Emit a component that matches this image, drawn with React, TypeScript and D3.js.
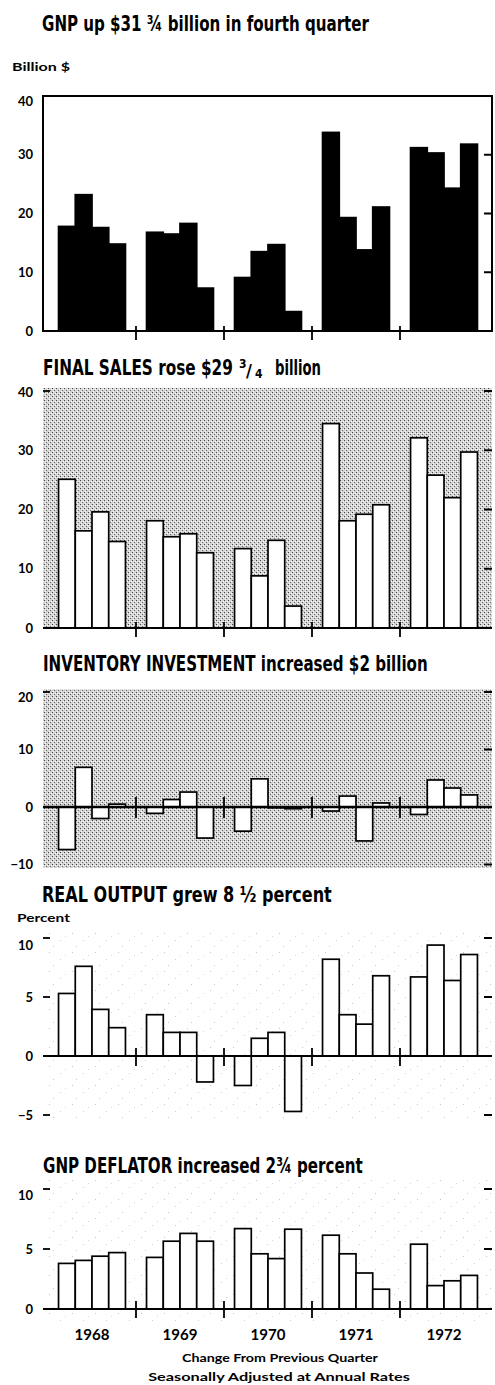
import React, { useLayoutEffect, useRef, useState } from "react";
import * as d3 from "d3";

const years = ["1968", "1969", "1970", "1971", "1972"];
const quarters = ["I", "II", "III", "IV"];

// Billion $ changes from previous quarter
const gnpChange = [17.8, 23.2, 17.6, 14.8, 16.8, 16.5, 18.3, 7.3, 9.1, 13.5, 14.7, 3.3, 33.8, 19.3, 13.8, 21.1, 31.2, 30.3, 24.3, 31.8];
const finalSalesChange = [25.1, 16.4, 19.6, 14.6, 18.1, 15.4, 15.9, 12.7, 13.4, 8.8, 14.8, 3.7, 34.5, 18.1, 19.2, 20.8, 32.1, 25.8, 22.0, 29.7];
const inventoryChange = [-7.4, 6.9, -2.0, 0.5, -1.1, 1.3, 2.6, -5.4, -4.2, 4.9, -0.1, -0.3, -0.7, 1.9, -5.9, 0.7, -1.3, 4.7, 3.3, 2.1];
// Percent changes
const realOutputChange = [5.3, 7.6, 3.95, 2.4, 3.5, 2.0, 2.0, -2.2, -2.5, 1.5, 2.0, -4.7, 8.2, 3.5, 2.7, 6.8, 6.7, 9.4, 6.4, 8.6];
const deflatorChange = [3.8, 4.05, 4.4, 4.7, 4.3, 5.65, 6.3, 5.65, 6.7, 4.6, 4.2, 6.65, 6.15, 4.6, 3.0, 1.65, 5.4, 1.95, 2.35, 2.8];

const gnpTicks = [0, 10, 20, 30, 40];
const salesTicks = [0, 10, 20, 30, 40];
const inventoryTicks = [-10, 0, 10, 20];
const realTicks = [-5, 0, 5, 10];
const deflatorTicks = [0, 5, 10];

const TITLE_FONT = "'DejaVu Sans Condensed','Liberation Sans Narrow','Roboto Condensed','DejaVu Sans',sans-serif";
const LABEL_FONT = "Lato,'DejaVu Sans',sans-serif";

const LEFT = 43;
const RIGHT = 492;

const xYear = d3.scaleBand<string>().domain(years).range([48, 488]).paddingInner(0).paddingOuter(0);
const xQuarter = d3.scaleBand<string>().domain(quarters).range([0, xYear.bandwidth()]).paddingInner(0).paddingOuter(0.63);

type FitProps = {
  x: number;
  y: number;
  width: number;
  size: number;
  font?: string;
  anchor?: "start" | "middle" | "end";
  children: React.ReactNode;
};

function FitText({ x, y, width, size, font = TITLE_FONT, anchor = "start", children }: FitProps) {
  const ref = useRef<SVGTextElement>(null);
  const [s, setS] = useState(1);
  useLayoutEffect(() => {
    if (ref.current) {
      const w = ref.current.getComputedTextLength();
      if (w > 0) setS(width / w);
    }
  }, [width]);
  return (
    <text ref={ref} transform={`translate(${x},${y}) scale(${s},1)`} textAnchor={anchor} fontFamily={font} fontWeight={700} fontSize={size} fill="#000">
      {children}
    </text>
  );
}

type PanelProps = {
  id: string;
  values: number[];
  domain: [number, number];
  range: [number, number];
  ticks: number[];
  leftTicks: number[];
  rightTicks: number[];
  topLabelOffset: number;
  bg: "none" | "stipple" | "speckle";
  bgTop: number;
  bgBottom: number;
  frame?: boolean;
  barFill: string;
  yearTick: [number, number];
  axisWidth: number;
};

function Panel(p: PanelProps) {
  const y = d3.scaleLinear().domain(p.domain).range(p.range);
  const y0 = y(0);
  const bars = p.values.map((v, i) => {
    const yr = years[Math.floor(i / 4)];
    const q = quarters[i % 4];
    const x = (xYear(yr) as number) + (xQuarter(q) as number);
    const top = Math.min(y(v), y0);
    const h = Math.abs(y(v) - y0);
    return { x, top, h, key: p.id + i };
  });
  const bounds = years.slice(1).map((yr) => xYear(yr) as number);
  const maxTick = Math.max(...p.ticks);
  return (
    <g>
      {p.bg !== "none" && (
        <rect x={LEFT} y={p.bgTop} width={RIGHT - LEFT} height={p.bgBottom - p.bgTop} fill={p.bg === "stipple" ? "url(#stipple)" : "url(#speckle)"} />
      )}
      {bars.map((b) => (
        <rect key={b.key} x={b.x} y={b.top} width={xQuarter.bandwidth()} height={Math.max(b.h, 0.8)} fill={p.barFill} stroke="#000" strokeWidth={1.7} />
      ))}
      {p.frame && (
        <rect x={LEFT} y={y(p.domain[1])} width={RIGHT - LEFT} height={y0 - y(p.domain[1])} fill="none" stroke="#000" strokeWidth={2} />
      )}
      <line x1={LEFT} x2={RIGHT} y1={y0} y2={y0} stroke="#000" strokeWidth={p.axisWidth} />
      {bounds.map((bx) => (
        <line key={p.id + "yt" + bx} x1={bx} x2={bx} y1={p.yearTick[0]} y2={p.yearTick[1]} stroke="#000" strokeWidth={1.8} />
      ))}
      {p.leftTicks.map((t) => (
        <line key={p.id + "lt" + t} x1={LEFT} x2={LEFT + 7} y1={y(t)} y2={y(t)} stroke="#000" strokeWidth={1.8} />
      ))}
      {p.rightTicks.map((t) => (
        <line key={p.id + "rt" + t} x1={RIGHT - 8} x2={RIGHT} y1={y(t)} y2={y(t)} stroke="#000" strokeWidth={2} />
      ))}
      {p.ticks.map((t) => (
        <text key={p.id + "lb" + t} x={33} y={y(t) + (t === maxTick ? p.topLabelOffset : 0)} dy="0.36em" textAnchor="end" fontFamily={LABEL_FONT} fontWeight={700} fontSize={13} fill="#000">
          {t < 0 ? "\u2212" + Math.abs(t) : String(t)}
        </text>
      ))}
    </g>
  );
}

export default function App() {
  const yearCenters = years.map((yr) => (xYear(yr) as number) + xYear.bandwidth() / 2);
  return (
    <svg width={495} height={1385} viewBox="0 0 495 1385" style={{ position: "absolute", left: 0, top: 0, display: "block", background: "#fff" }}>
      <defs>
        <pattern id="stipple" width={4} height={4} patternUnits="userSpaceOnUse">
          <rect width={4} height={4} fill="#d2d2d2" />
          <rect x={0} y={0} width={1} height={1} fill="#444" />
          <rect x={2} y={2} width={1} height={1} fill="#666" />
          <rect x={1} y={3} width={1} height={1} fill="#fff" />
          <rect x={3} y={1} width={1} height={1} fill="#fff" />
          <rect x={1} y={1} width={1} height={1} fill="#eee" />
        </pattern>
        <pattern id="speckle" width={23} height={19} patternUnits="userSpaceOnUse">
          <rect width={23} height={19} fill="#fff" />
          <rect x={3} y={2} width={1} height={1} fill="#c4c4c4" />
          <rect x={14} y={9} width={1} height={1} fill="#d0d0d0" />
          <rect x={7} y={15} width={1} height={1} fill="#c8c8c8" />
          <rect x={19} y={5} width={1} height={1} fill="#d8d8d8" />
        </pattern>
      </defs>

      {/* Panel 1: GNP */}
      <FitText x={42} y={31} width={327} size={21}>GNP up  $31 ¾ billion in fourth quarter</FitText>
      <FitText x={12} y={71} width={58} size={12} font={LABEL_FONT}>Billion $</FitText>
      <Panel id="gnp" values={gnpChange} domain={[0, 40]} range={[331, 96]} ticks={gnpTicks} leftTicks={[]} rightTicks={[10, 20, 30]} topLabelOffset={5}
        bg="none" bgTop={0} bgBottom={0} frame barFill="#000" yearTick={[326, 340]} axisWidth={2} />

      {/* Panel 2: Final sales */}
      <FitText x={43} y={375} width={190} size={21}>FINAL SALES rose $29</FitText>
      <text x={239} y={368} fontFamily={TITLE_FONT} fontWeight={700} fontSize={12}>3</text>
      <text x={246} y={377} fontFamily={TITLE_FONT} fontWeight={700} fontSize={18}>/</text>
      <text x={255} y={378} fontFamily={TITLE_FONT} fontWeight={700} fontSize={12}>4</text>
      <FitText x={275} y={375} width={46} size={21}>billion</FitText>
      <Panel id="fs" values={finalSalesChange} domain={[0, 40]} range={[628, 391]} ticks={salesTicks} leftTicks={[40]} rightTicks={[10, 20, 30, 40]} topLabelOffset={1}
        bg="stipple" bgTop={388} bgBottom={628} barFill="#fff" yearTick={[622, 637]} axisWidth={2.2} />

      {/* Panel 3: Inventory investment */}
      <FitText x={43} y={671} width={385} size={21}>INVENTORY INVESTMENT  increased $2 billion</FitText>
      <Panel id="inv" values={inventoryChange} domain={[-10, 20]} range={[864.5, 692]} ticks={inventoryTicks} leftTicks={[20]} rightTicks={[-10, 10, 20]} topLabelOffset={5}
        bg="stipple" bgTop={689} bgBottom={868} barFill="#fff" yearTick={[797, 818]} axisWidth={2.5} />

      {/* Panel 4: Real output */}
      <FitText x={42} y={902} width={290} size={21}>REAL OUTPUT grew  8 ½  percent</FitText>
      <FitText x={17} y={922} width={53} size={11} font={LABEL_FONT}>Percent</FitText>
      <Panel id="real" values={realOutputChange} domain={[-5, 10]} range={[1115, 938]} ticks={realTicks} leftTicks={[10, 5, -5]} rightTicks={[10, 5, -5]} topLabelOffset={7}
        bg="speckle" bgTop={932} bgBottom={1122} barFill="#fff" yearTick={[1048, 1066]} axisWidth={2} />

      {/* Panel 5: GNP deflator */}
      <FitText x={43} y={1173} width={320} size={21}>GNP DEFLATOR increased 2¾ percent</FitText>
      <Panel id="defl" values={deflatorChange} domain={[0, 10]} range={[1309, 1189]} ticks={deflatorTicks} leftTicks={[10, 5]} rightTicks={[10, 5]} topLabelOffset={6}
        bg="speckle" bgTop={1180} bgBottom={1322} barFill="#fff" yearTick={[1301, 1318]} axisWidth={2} />

      {years.map((yr, i) => (
        <FitText key={"yl" + yr} x={yearCenters[i]} y={1340} width={35} size={15} font={LABEL_FONT} anchor="middle">{yr}</FitText>
      ))}
      <FitText x={280} y={1362} width={196} size={11} font={LABEL_FONT} anchor="middle">Change From Previous Quarter</FitText>
      <FitText x={279} y={1381} width={262} size={11} font={LABEL_FONT} anchor="middle">Seasonally Adjusted at Annual Rates</FitText>
    </svg>
  );
}
